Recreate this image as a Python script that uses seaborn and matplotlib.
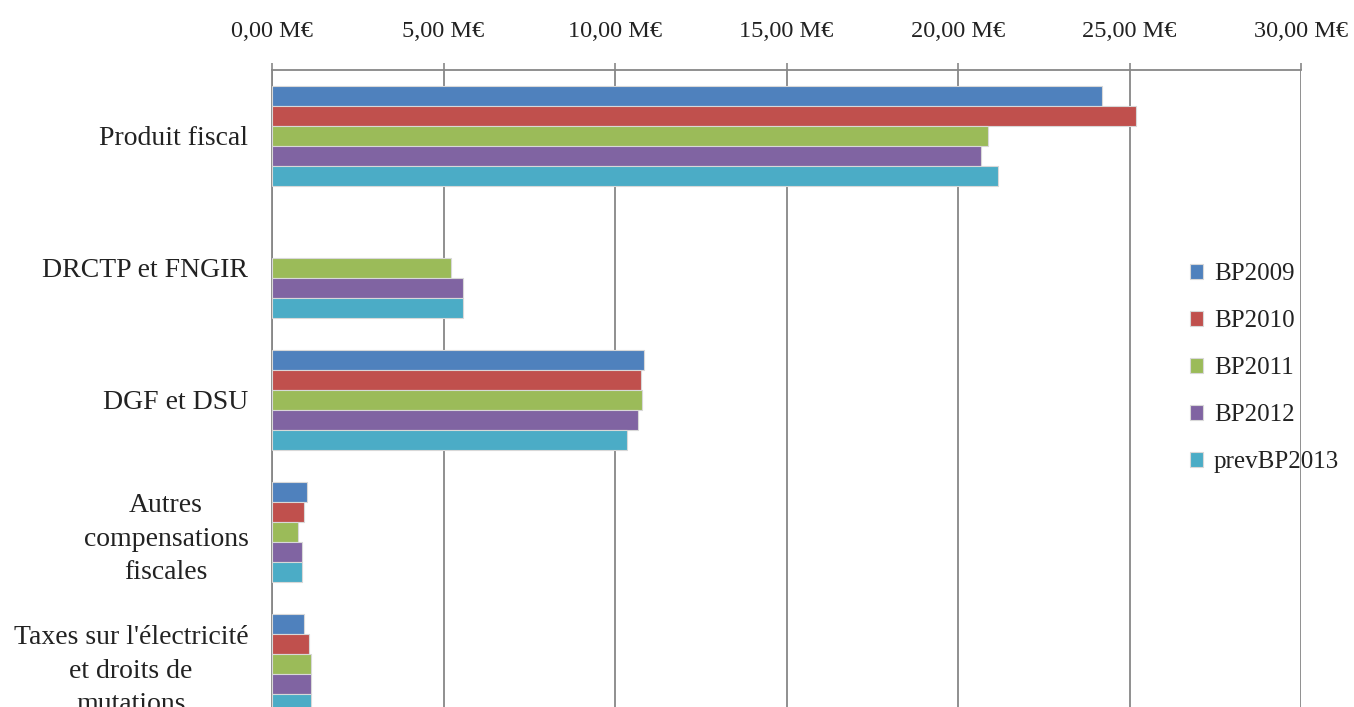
import numpy as np
import pandas as pd
import matplotlib
matplotlib.use("Agg")
import matplotlib.pyplot as plt
import seaborn as sns

categories = [
    "Produit fiscal",
    "DRCTP et FNGIR",
    "DGF et DSU",
    "Autres\ncompensations\nfiscales",
    "Taxes sur l'électricité\net droits de\nmutations",
]
series = ["BP2009", "BP2010", "BP2011", "BP2012", "prevBP2013"]
bp2009 = [24.20, np.nan, 10.85, 1.02, 0.93]
bp2010 = [25.18, np.nan, 10.77, 0.93, 1.08]
bp2011 = [20.87, 5.22, 10.80, 0.76, 1.13]
bp2012 = [20.67, 5.57, 10.68, 0.87, 1.13]
prev2013 = [21.17, 5.57, 10.35, 0.87, 1.13]
colors = ["#4F81BD", "#C0504D", "#9BBB59", "#8064A2", "#4BACC6"]
x_ticks = [0, 5, 10, 15, 20, 25, 30]

values = [bp2009, bp2010, bp2011, bp2012, prev2013]
rows = []
for name, vals in zip(series, values):
    for cat, v in zip(categories, vals):
        rows.append({"Poste": cat, "Série": name, "Montant": v})
df = pd.DataFrame(rows)

sns.set_theme(style="white")
plt.rcParams["font.family"] = ["Liberation Serif", "DejaVu Serif"]

fig = plt.figure(figsize=(13.54, 7.07), dpi=100)
ax = fig.add_axes([0.2009, -0.0325, 0.7600, 0.9335])

sns.barplot(
    data=df, x="Montant", y="Poste", hue="Série", order=categories,
    hue_order=series, palette=colors, saturation=1, orient="h", width=0.76,
    edgecolor="#d8d8d8", linewidth=0.8, ax=ax, zorder=3,
)

ax.set_xlim(0, 30)
ax.set_ylim(len(categories) - 0.5, -0.5)
ax.xaxis.tick_top()
ax.set_xticks(x_ticks)
ax.set_xticklabels([f"{t:.2f}".replace(".", ",") + " M€" for t in x_ticks])
ax.tick_params(axis="x", which="major", direction="out", length=5,
               width=1.2, color="#878787", pad=15, labelsize=17.5,
               labelcolor="#222222")
ax.grid(axis="x", color="#878787", linewidth=1.3, zorder=0)
ax.set_axisbelow(True)

ax.set_yticks(range(len(categories)))
ax.set_yticklabels(categories, ha="right", multialignment="center",
                   linespacing=1.45)
ax.tick_params(axis="y", which="major", length=0, pad=17, labelsize=20,
               labelcolor="#222222")
ax.set_yticks(np.arange(-0.5, len(categories), 1.0), minor=True)
ax.tick_params(axis="y", which="minor", direction="out", length=5,
               width=1.2, color="#878787")

for side in ["right", "bottom"]:
    ax.spines[side].set_visible(False)
for side in ["left", "top"]:
    ax.spines[side].set_color("#878787")
    ax.spines[side].set_linewidth(1.3)

ax.set_xlabel("")
ax.set_ylabel("")

handles, labels = ax.get_legend_handles_labels()
ax.legend(
    handles, labels, loc="center left", bbox_to_anchor=(0.8625, 0.479),
    bbox_transform=fig.transFigure, frameon=False, fontsize=18,
    handlelength=0.5, handleheight=0.5, handletextpad=0.45,
    labelspacing=1.0, labelcolor="#222222",
)

fig.savefig("out.png", dpi=100)
